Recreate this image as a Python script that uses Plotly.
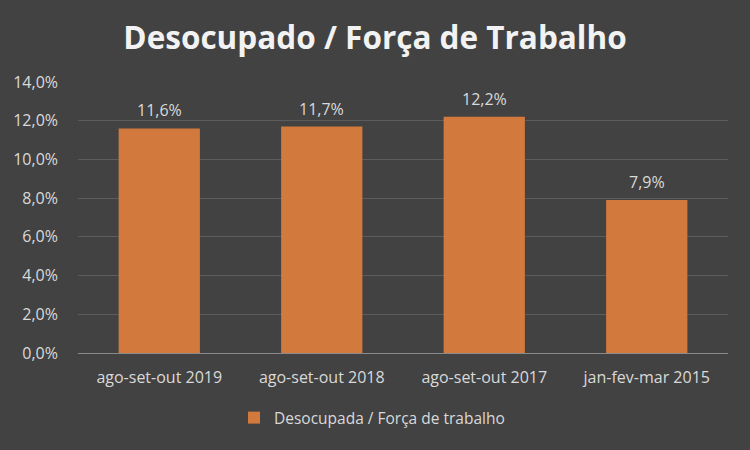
import plotly.graph_objects as go

categories = ["ago-set-out 2019", "ago-set-out 2018", "ago-set-out 2017", "jan-fev-mar 2015"]
values = [11.6, 11.7, 12.2, 7.9]
series_name = "Desocupada / Força de trabalho"
tick_vals = [0, 2, 4, 6, 8, 10, 12, 14]
tick_text = [f"{v:.1f}%".replace(".", ",") for v in tick_vals]
label_text = [f"{v:.1f}%".replace(".", ",") for v in values]

FONT = "Open Sans"
TXT = "#d9d9d9"

fig = go.Figure()
fig.add_trace(go.Bar(
    x=categories, y=values, name=series_name,
    marker=dict(color="#d2793d", line=dict(width=0)),
    showlegend=True,
))

for c, v, t in zip(categories, values, label_text):
    fig.add_annotation(x=c, y=v, text=t, showarrow=False, yanchor="bottom",
                       yshift=5, font=dict(family=FONT, size=16, color=TXT))

fig.update_layout(
    width=750, height=450,
    paper_bgcolor="#424242", plot_bgcolor="#424242",
    margin=dict(l=78, r=22, t=82, b=97),
    bargap=0.5,
    title=dict(text="<b>Desocupado / Força de Trabalho</b>", x=0.5, xanchor="center",
               y=0.915, yanchor="middle",
               font=dict(family=FONT, size=31.5, color="#f2f2f2")),
    font=dict(family=FONT, color=TXT, size=16),
    showlegend=True,
    legend=dict(orientation="h", x=0.24, xanchor="left", y=-0.24, yanchor="middle",
                font=dict(size=15.5, color=TXT), bgcolor="rgba(0,0,0,0)",
                itemwidth=30),
    yaxis=dict(range=[0, 14], tickvals=tick_vals, ticktext=tick_text,
               gridcolor="#5c5c5c", gridwidth=1, zeroline=False,
               tickfont=dict(size=16, color=TXT), ticks="", ticklen=0,
               ticklabelstandoff=19, showline=False),
    xaxis=dict(showline=True, linecolor="#8a8a8a", linewidth=1,
               tickfont=dict(size=16, color=TXT), ticks="",
               ticklabelstandoff=10),
)

fig.write_html("out.html", config={"displayModeBar": False},
               post_script="document.body.style.margin='0';")
